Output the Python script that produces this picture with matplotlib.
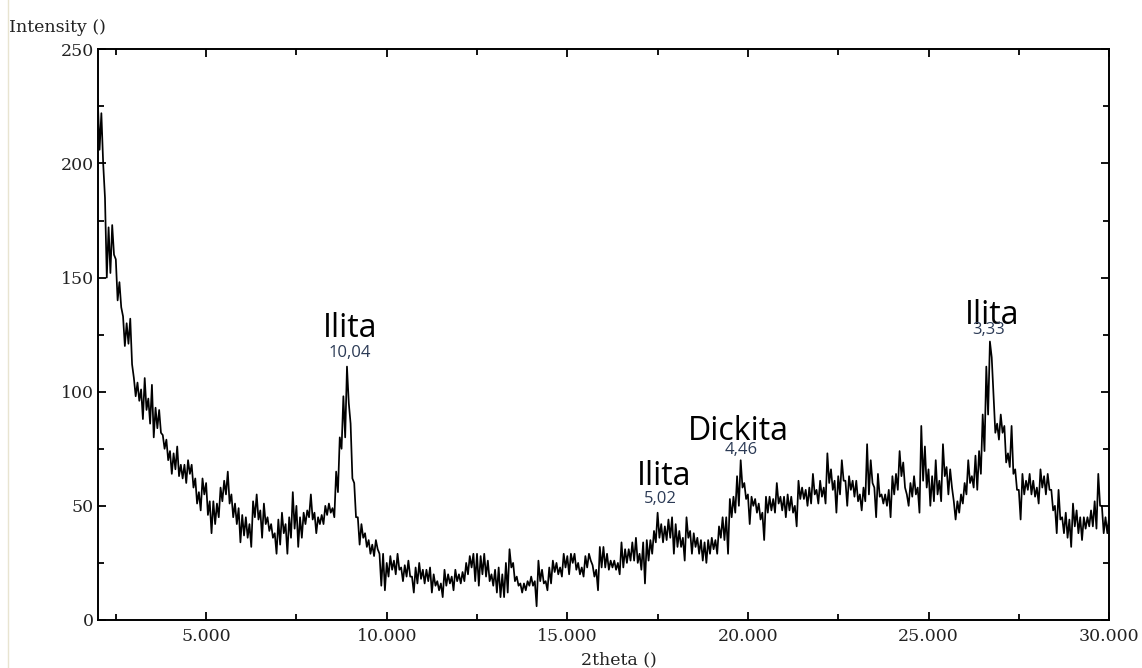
import numpy as np
import matplotlib
matplotlib.use("Agg")
import matplotlib.pyplot as plt
from matplotlib.ticker import MultipleLocator, FuncFormatter
from matplotlib.lines import Line2D

# scan: start angle and step (degrees 2theta)
scan_start = 2.0
scan_step = 0.05

# intensity, one row per degree (2.0 .. 29.95) + last point at 30.0
intensity = [
    228, 206, 222, 200, 185, 150, 172, 152, 173, 160, 158, 140, 148, 137, 133, 120, 130, 121, 132, 112,
    106, 98, 104, 96, 101, 88, 106, 92, 97, 86, 103, 80, 93, 84, 92, 82, 81, 75, 79, 70,
    74, 64, 73, 66, 76, 63, 68, 62, 68, 60, 70, 64, 68, 58, 62, 51, 56, 48, 62, 55,
    60, 46, 52, 38, 52, 42, 51, 45, 58, 52, 61, 55, 65, 51, 55, 45, 51, 42, 49, 34,
    46, 37, 45, 36, 42, 32, 52, 45, 55, 44, 48, 36, 51, 42, 45, 39, 42, 36, 38, 29,
    44, 33, 47, 38, 42, 29, 45, 36, 56, 40, 50, 32, 45, 36, 47, 42, 48, 45, 55, 44,
    47, 38, 45, 42, 46, 42, 50, 46, 51, 47, 49, 45, 65, 56, 80, 75, 98, 80, 111, 95,
    86, 62, 60, 45, 45, 33, 42, 36, 38, 32, 35, 29, 33, 28, 35, 31, 29, 15, 29, 13,
    25, 19, 28, 22, 26, 20, 29, 22, 23, 17, 24, 19, 26, 19, 19, 12, 23, 16, 25, 18,
    22, 16, 22, 17, 23, 12, 20, 15, 17, 13, 16, 10, 22, 15, 20, 16, 19, 13, 22, 17,
    20, 16, 21, 17, 25, 20, 28, 23, 29, 17, 29, 15, 28, 20, 29, 19, 26, 17, 20, 15,
    22, 12, 23, 10, 20, 10, 25, 12, 31, 23, 25, 17, 19, 15, 16, 12, 16, 13, 17, 15,
    19, 15, 17, 6, 26, 17, 22, 16, 17, 13, 23, 16, 26, 21, 25, 20, 23, 19, 29, 23,
    28, 20, 29, 25, 29, 22, 25, 20, 23, 19, 28, 23, 29, 26, 24, 19, 22, 13, 32, 23,
    32, 23, 29, 22, 26, 23, 26, 22, 25, 20, 34, 23, 31, 25, 31, 26, 34, 26, 36, 25,
    29, 22, 34, 16, 35, 26, 35, 29, 39, 34, 47, 36, 42, 34, 41, 35, 44, 36, 45, 29,
    42, 32, 39, 32, 36, 26, 45, 36, 39, 29, 38, 32, 36, 29, 35, 26, 34, 25, 35, 29,
    36, 31, 35, 29, 41, 36, 45, 35, 45, 29, 53, 45, 54, 47, 63, 50, 70, 58, 60, 53,
    55, 42, 54, 50, 53, 47, 51, 44, 47, 35, 54, 47, 54, 48, 53, 47, 60, 51, 54, 48,
    54, 45, 55, 48, 54, 47, 50, 41, 61, 53, 58, 53, 57, 50, 58, 51, 64, 55, 57, 51,
    61, 54, 58, 51, 73, 60, 66, 57, 61, 47, 63, 55, 70, 61, 61, 50, 63, 57, 61, 54,
    61, 52, 55, 48, 58, 52, 77, 55, 70, 60, 58, 45, 64, 54, 55, 51, 55, 50, 57, 45,
    63, 55, 64, 57, 74, 63, 69, 58, 55, 50, 60, 54, 63, 55, 58, 47, 85, 61, 76, 58,
    66, 50, 63, 52, 70, 55, 61, 52, 77, 63, 67, 55, 66, 58, 52, 44, 52, 47, 55, 51,
    60, 55, 70, 60, 63, 58, 72, 57, 74, 64, 90, 74, 111, 90, 122, 115, 98, 82, 86, 79,
    90, 82, 85, 69, 73, 67, 85, 64, 66, 57, 57, 44, 64, 55, 61, 57, 64, 55, 61, 54,
    58, 51, 66, 58, 63, 55, 64, 57, 57, 48, 50, 38, 57, 44, 45, 38, 47, 36, 44, 32,
    51, 41, 48, 38, 45, 35, 45, 40, 45, 41, 48, 41, 52, 40, 64, 50, 50, 38, 45, 38,
    45,
]

two_theta = scan_start + scan_step * np.arange(len(intensity))

# peak labels: name, d-spacing text, position
label_names = ["Ilita", "Ilita", "Dickita", "Ilita"]
label_d = ["10,04", "5,02", "4,46", "3,33"]
label_x = [9.0, 17.68, 19.74, 26.76]
label_y = [123.9, 59.1, 78.8, 129.6]
d_x = [8.97, 17.57, 19.81, 26.66]
d_y = [117.0, 53.0, 74.4, 127.0]

fig = plt.figure(figsize=(11.42, 6.68), dpi=100)
ax = fig.add_axes([0.0856, 0.0719, 0.8856, 0.8543])

ax.plot(two_theta, intensity, color="black", lw=1.25)

ax.set_xlim(2, 30)
ax.set_ylim(0, 250)
ax.xaxis.set_major_locator(MultipleLocator(5))
ax.xaxis.set_minor_locator(MultipleLocator(2.5))
ax.yaxis.set_major_locator(MultipleLocator(50))
ax.yaxis.set_minor_locator(MultipleLocator(25))
ax.xaxis.set_major_formatter(FuncFormatter(lambda v, p: f"{v:.3f}"))
ax.yaxis.set_major_formatter(FuncFormatter(lambda v, p: f"{int(v)}"))

ax.tick_params(which="both", direction="in", top=True, right=True, width=1.3)
ax.tick_params(which="major", length=5.5)
ax.tick_params(which="minor", length=4.5)
ax.tick_params(axis="x", pad=6)
ax.tick_params(axis="y", pad=3)
for lab in ax.get_xticklabels() + ax.get_yticklabels():
    lab.set_family("DejaVu Serif")
    lab.set_fontsize(12.5)
    lab.set_color("#222222")
for sp in ax.spines.values():
    sp.set_linewidth(1.4)

for name, d, lx, ly, dx, dy in zip(label_names, label_d, label_x, label_y, d_x, d_y):
    ax.text(lx, ly, name, ha="center", va="baseline", family="Open Sans", fontsize=23, color="black")
    ax.text(dx, dy, d, ha="center", va="center", family="Open Sans", fontsize=12, color="#2b3a55")

fig.text(9 / 1142, 1 - 32 / 668, "Intensity ()", ha="left", va="baseline",
         family="DejaVu Serif", fontsize=12.5, color="#222222")
fig.text(619 / 1142, 1 - 664 / 668, "2theta ()", ha="center", va="baseline",
         family="DejaVu Serif", fontsize=12.5, color="#222222")

# thin window border on the left
fig.add_artist(Line2D([8 / 1142, 8 / 1142], [0, 1], transform=fig.transFigure,
                      color="#e8e4d0", lw=1))

fig.savefig("out.png", dpi=100)
